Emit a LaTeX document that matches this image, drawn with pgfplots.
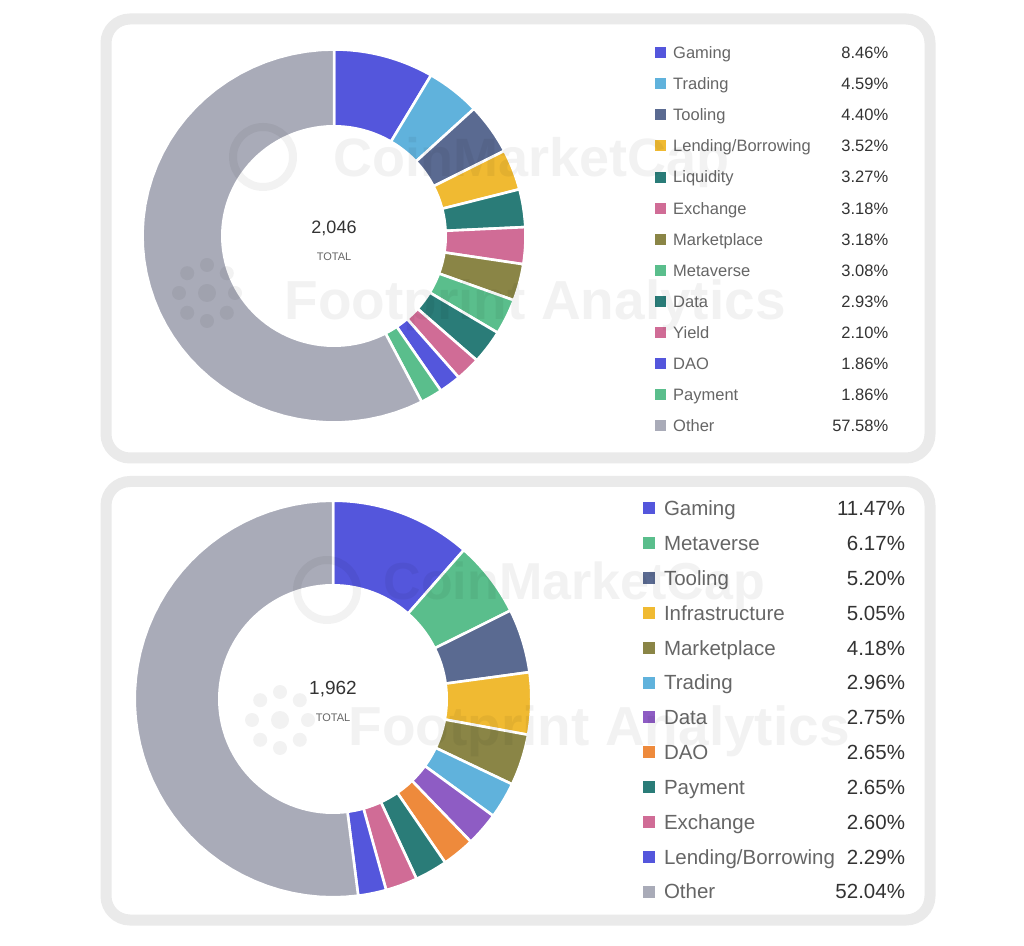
\documentclass[border=0pt]{standalone}
\usepackage{pgfplots}
\pgfplotsset{compat=1.18}
\usepackage{fontspec}
\setmainfont{Liberation Sans}
\definecolor{cGaming}{HTML}{5456DC}
\definecolor{cTrading}{HTML}{60B2DC}
\definecolor{cTooling}{HTML}{5A6A91}
\definecolor{cYellow}{HTML}{F0BA32}
\definecolor{cTeal}{HTML}{2A7C78}
\definecolor{cPink}{HTML}{D06C96}
\definecolor{cOlive}{HTML}{8A8546}
\definecolor{cGreen}{HTML}{5ABE8C}
\definecolor{cOther}{HTML}{A9ABB8}
\definecolor{cPurple}{HTML}{8E5CC4}
\definecolor{cOrange}{HTML}{EE8A3C}
\definecolor{labc}{HTML}{666666}
\definecolor{numc}{HTML}{333333}
\definecolor{panel}{HTML}{EAEAEA}
\gdef\cum{0}
% #1 colour, #2 value (%), #3 label, #4 Rx, #5 Ry
\newcommand\slice[5]{%
  \pgfmathsetmacro\aS{90-3.6*\cum}%
  \pgfmathsetmacro\aE{90-3.6*(\cum+#2)}%
  \edef\tmp{\noexpand\addplot[fill=#1, draw=white, line width=2.6pt, domain=\aE:\aS, samples=50, variable=\noexpand\t, legend image post style={draw=none}] ({#4*cos(\noexpand\t)},{#5*sin(\noexpand\t)}) -- (axis cs:0,0) -- cycle;}\tmp
  \addlegendentry{\makebox[\lw]{\textcolor{labc}{#3}\hfill\textcolor{numc}{#2\%}}}%
  \pgfmathsetmacro\nc{\cum+#2}\xdef\cum{\nc}}
\pgfplotsset{donut/.style={hide axis, x=1pt, y=1pt, xmin=-200, xmax=200, ymin=-200, ymax=200, anchor=center, clip=false, legend cell align=left}}
\begin{document}
\begin{tikzpicture}[x=1pt,y=1pt]
\fill[white] (0,0) rectangle (1024,945);
\draw[panel, line width=11pt, rounded corners=24pt] (106,926) rectangle (930,487);
\draw[panel, line width=11pt, rounded corners=24pt] (106,463.5) rectangle (930,25);
% ---------------- top chart
\gdef\cum{0}\def\lw{215pt}
\begin{axis}[donut, at={(334pt,709pt)},
  legend image code/.code={\path[#1, draw=none] (0pt,-5.5pt) rectangle (11pt,5.5pt); \path[draw=none, fill=none] (0pt,0pt) -- (18.7pt,0pt);},
  legend style={draw=none, fill=none, inner sep=0pt, outer sep=0pt, column sep=0pt, row sep=0pt,
    font=\fontsize{16.5}{18}\selectfont, nodes={inner sep=0pt, text height=21.45pt, text depth=9.65pt},
    at={(1.30125,0.99713)}, anchor=north west}]
\slice{cGaming}{8.46}{Gaming}{191.5}{186.5}
\slice{cTrading}{4.59}{Trading}{191.5}{186.5}
\slice{cTooling}{4.40}{Tooling}{191.5}{186.5}
\slice{cYellow}{3.52}{Lending/Borrowing}{191.5}{186.5}
\slice{cTeal}{3.27}{Liquidity}{191.5}{186.5}
\slice{cPink}{3.18}{Exchange}{191.5}{186.5}
\slice{cOlive}{3.18}{Marketplace}{191.5}{186.5}
\slice{cGreen}{3.08}{Metaverse}{191.5}{186.5}
\slice{cTeal}{2.93}{Data}{191.5}{186.5}
\slice{cPink}{2.10}{Yield}{191.5}{186.5}
\slice{cGaming}{1.86}{DAO}{191.5}{186.5}
\slice{cGreen}{1.86}{Payment}{191.5}{186.5}
\slice{cOther}{57.58}{Other}{191.5}{186.5}
\addplot[fill=white, draw=none, domain=0:360, samples=120, forget plot] ({113*cos(x)},{111*sin(x)});
\node[numc, font=\fontsize{18}{20}\selectfont] at (axis cs:0,8) {2,046};
\node[labc, font=\fontsize{11}{12}\selectfont] at (axis cs:0,-21) {TOTAL};
\end{axis}
% ---------------- bottom chart
\gdef\cum{0}\def\lw{241pt}
\begin{axis}[donut, at={(333pt,246pt)},
  legend image code/.code={\path[#1, draw=none] (0pt,-6pt) rectangle (12pt,6pt); \path[draw=none, fill=none] (0pt,0pt) -- (21pt,0pt);},
  legend style={draw=none, fill=none, inner sep=0pt, outer sep=0pt, column sep=0pt, row sep=0pt,
    font=\fontsize{20.5}{22}\selectfont, nodes={inner sep=0pt, text height=24.77pt, text depth=10.07pt},
    at={(1.275,1.0203)}, anchor=north west}]
\slice{cGaming}{11.47}{Gaming}{198.3}{198.3}
\slice{cGreen}{6.17}{Metaverse}{198.3}{198.3}
\slice{cTooling}{5.20}{Tooling}{198.3}{198.3}
\slice{cYellow}{5.05}{Infrastructure}{198.3}{198.3}
\slice{cOlive}{4.18}{Marketplace}{198.3}{198.3}
\slice{cTrading}{2.96}{Trading}{198.3}{198.3}
\slice{cPurple}{2.75}{Data}{198.3}{198.3}
\slice{cOrange}{2.65}{DAO}{198.3}{198.3}
\slice{cTeal}{2.65}{Payment}{198.3}{198.3}
\slice{cPink}{2.60}{Exchange}{198.3}{198.3}
\slice{cGaming}{2.29}{Lending/Borrowing}{198.3}{198.3}
\slice{cOther}{52.04}{Other}{198.3}{198.3}
\addplot[fill=white, draw=none, domain=0:360, samples=120, forget plot] ({115*cos(x)},{115*sin(x)});
\node[numc, font=\fontsize{19}{21}\selectfont] at (axis cs:0,10) {1,962};
\node[labc, font=\fontsize{11}{12}\selectfont] at (axis cs:0,-19) {TOTAL};
\end{axis}
% ---------------- watermarks
\begin{scope}[opacity=0.05]
\draw[line width=8pt] (263,788) circle (30);
\node[anchor=base west, font=\bfseries\fontsize{54}{54}\selectfont] at (330,768) {CoinMarketCap};
\node[anchor=base west, font=\bfseries\fontsize{55}{55}\selectfont] at (281,625) {Footprint Analytics};
\foreach \a in {0,45,...,315} \fill ({207+28*cos(\a)},{652+28*sin(\a)}) circle (7);
\fill (207,652) circle (9);
\draw[line width=8pt] (327,355) circle (30);
\node[anchor=base west, font=\bfseries\fontsize{52}{52}\selectfont] at (380,345) {CoinMarketCap};
\node[anchor=base west, font=\bfseries\fontsize{55}{55}\selectfont] at (345,200) {Footprint Analytics};
\foreach \a in {0,45,...,315} \fill ({280+28*cos(\a)},{225+28*sin(\a)}) circle (7);
\fill (280,225) circle (9);
\end{scope}
\end{tikzpicture}
\end{document}
